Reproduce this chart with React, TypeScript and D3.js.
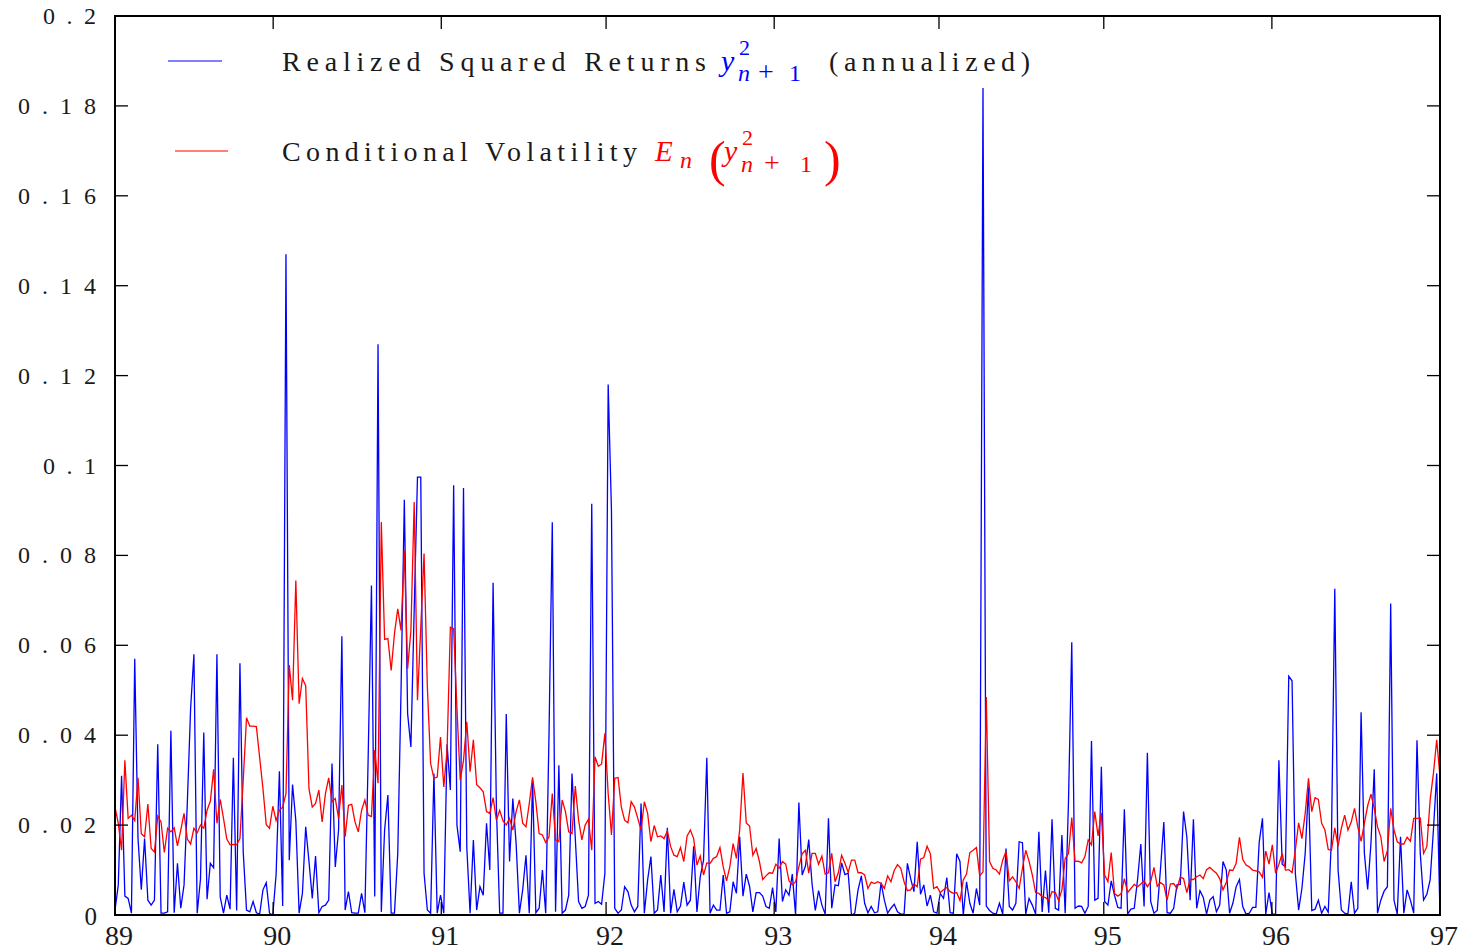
import React from 'react';
import * as d3 from 'd3';

// Realized squared returns y^2_{n+1} (annualized), weekly, in units of 0.01
const realizedSq: number[] = [
  0.11,0.67,3.1,0.42,0.37,0.04,5.7,1.7,0.56,1.7,
  0.33,0.22,0.33,3.8,0.04,0.04,0.07,4.1,0.05,1.15,
  0.15,0.67,2.5,4.6,5.8,0.04,0.8,4.06,0.35,1.15,
  1.05,5.8,0.4,0.04,0.44,0.13,3.5,0.1,5.6,1.4,
  0.11,0.07,0.3,0.05,0.02,0.56,0.72,0.04,0.0,0.9,
  3.2,0.2,
  14.7,
  1.22,2.9,2.1,0.04,0.48,1.96,1.19,0.37,1.31,0.05,
  0.19,0.22,0.33,3.37,1.07,1.89,6.2,0.11,0.52,0.05,
  0.04,0.04,0.48,0.05,3.5,7.33,0.41,12.7,0.07,1.89,
  2.67,0.04,0.04,1.37,5.0,9.24,4.48,3.74,6.8,9.74,
  9.74,0.93,0.11,0.04,3.15,0.04,0.44,0.04,3.8,2.78,
  9.56,2.0,1.41,9.5,1.5,0.04,1.67,0.11,0.63,0.44,
  2.04,1.0,7.39,2.4,0.04,0.04,4.47,1.19,2.59,1.59,
  0.04,0.56,1.33,0.04,3.0,0.05,0.15,1.0,0.04,4.0,
  8.74,0.07,3.33,0.04,0.11,0.44,3.15,1.7,0.3,0.15,
  0.19,0.44,9.15,0.26,0.3,0.24,0.93,11.8,9.0,
  0.15,0.04,0.11,0.63,0.52,0.22,0.07,0.19,2.48,0.04,
  0.78,1.3,0.04,0.11,0.89,0.07,1.94,0.04,0.57,0.07,
  0.2,0.73,0.22,0.33,1.53,0.07,0.85,1.22,3.5,0.04,
  0.22,0.11,0.11,0.89,0.04,0.07,0.74,0.48,1.74,0.42,
  0.91,0.64,0.07,0.5,0.5,0.42,0.19,0.15,0.61,0.07,1.7,
  0.3,0.56,0.44,0.91,0,2.5,0.89,1.09,1.68,0.7,
  0.1,0.54,0.22,0.02,2.15,0.15,0.67,0.65,1.16,0.9,
  0.93,0,0.04,0.56,0.87,0.26,0.05,0.19,0.05,0.07,
  0.72,0.33,0.04,0.15,0.24,0.07,0.02,0.02,1.15,0.81,
  0.52,1.63,0.46,0.67,0.2,0.44,0.07,0.04,0.48,0.37,
  0.83,0.05,0.04,1.36,1.19,0,0.74,0.26,0.04,0.59,
  0.22,18.4,0.2,0.1,0.04,0.02,0.26,0.02,1.48,0.19,
  0.11,0.26,1.63,1.61,0.02,0.37,0.22,0.02,1.85,0.07,
  0.99,0.05,2.13,0.15,0.11,1.78,0.04,2.5,6.07,0.15,
  0.2,0.19,0.04,0.19,3.87,0.33,0.37,3.3,0.3,0.22,
  0.76,0.44,0.17,0.15,2.35,0.02,0.13,0.15,0.78,1.58,
  0.19,3.61,0.3,0.04,0.1,1.04,2.07,0.05,0.04,0.15,
  0.67,0.68,2.3,1.74,0.33,2.13,0.15,0.54,0.39,0.02,
  0.33,0.41,0.07,0.22,1.19,1.0,0.04,0.26,0.63,0.79,
  0.19,0.02,0.04,0.17,0.17,1.61,2.15,0.02,0.5,0.02,
  0.02,3.44,1.13,1.07,5.31,5.21,0.93,0.11,0.59,1.37,
  2.85,0.1,0.13,0.33,0.04,0.19,0.06,1.74,7.26,1.0,
  0.11,0.04,0.02,0.74,0.04,0.15,4.51,1.37,0.57,1.59,
  3.24,0.04,0.33,0.53,0.63,6.93,0.33,0.02,1.74,0.04,
  0.56,0.33,0.04,3.89,1.37,0.33,0.46,0.78,1.89,3.15,0.0,
];

// Conditional volatility E_n(y^2_{n+1}), weekly, in units of 0.01
const conditionalVol: number[] = [
  2.4,2.04,1.44,3.44,2.15,2.22,2.1,3.05,1.81,1.74,
  2.47,1.48,1.4,2.2,2.07,1.39,1.93,1.85,1.94,1.54,
  1.89,2.26,1.69,1.58,1.93,1.83,2.0,1.93,2.33,2.53,
  3.24,2.04,2.57,2.15,1.69,1.56,1.57,1.56,1.7,3.0,
  4.39,4.2,4.2,4.19,3.5,2.81,2.01,1.93,2.42,2.1,
  2.33,2.4,
  2.7,
  5.56,4.78,7.44,4.7,5.26,5.1,2.81,2.4,2.48,2.78,
  2.07,2.7,3.05,2.52,2.59,2.15,2.89,1.74,2.44,2.46,
  2.07,1.85,2.33,2.56,2.22,2.19,3.67,2.93,8.74,6.13,
  6.15,5.44,6.26,6.81,6.33,8.11,5.48,6.33,9.19,4.78,
  6.4,8.04,5.07,3.37,3.04,3.07,3.96,2.85,3.67,6.4,
  6.37,4.6,3.0,3.44,4.3,3.19,3.9,2.9,2.83,2.74,
  2.3,2.26,2.61,2.11,2.33,2.1,2.0,2.15,1.89,2.3,
  2.56,2.04,1.96,2.48,3.06,2.52,1.81,1.78,1.61,1.74,
  2.7,1.67,1.63,2.56,2.3,1.85,1.81,2.87,2.11,1.67,
  2.0,2.13,1.44,3.52,3.31,3.36,4.04,2.7,1.78,
  3.04,3.06,2.4,2.11,2.05,2.52,2.4,2.15,1.89,2.52,
  2.26,1.63,1.99,1.74,1.76,1.7,1.87,1.52,1.33,1.3,
  1.5,1.19,1.76,1.89,1.7,1.11,1.31,0.89,1.16,1.15,
  1.26,1.3,1.5,1.07,0.76,1.07,1.59,1.26,1.9,3.16,
  2.05,1.98,1.33,1.48,1.19,0.79,0.87,0.94,0.93,1.13,1.04,
  1.19,1.13,0.76,0.67,0.74,1.07,1.36,1.44,0.93,1.37,
  1.37,1.13,1.31,0.91,0.94,1.37,0.74,0.94,1.33,1.15,
  0.95,1.22,1.22,0.94,0.94,0.89,0.59,0.73,0.7,0.74,
  0.7,0.59,0.87,0.74,0.99,1.12,1.04,0.74,0.54,0.56,
  0.69,0.63,1.24,1.28,1.53,1.36,0.59,0.63,0.5,0.56,
  0.61,0.52,0.48,0.5,0.32,0.78,0.91,1.39,1.44,1.5,
  0.87,0.96,4.85,1.19,1.04,1.0,0.91,1.22,1.42,0.76,
  0.85,0.74,0.59,1.04,1.44,1.2,0.89,0.5,0.48,0.41,
  0.39,0.32,0.52,0.5,0.32,0.56,1.26,1.37,2.17,1.19,
  1.2,1.16,1.3,1.67,1.56,2.3,1.76,2.27,0.89,0.74,
  1.39,0.48,0.42,0.47,0.81,0.5,0.59,0.68,0.63,0.69,
  0.76,0.63,0.74,1.06,0.64,0.72,0.67,0.33,0.69,0.7,
  0.59,0.84,0.81,0.5,0.79,0.79,0.85,0.89,0.81,1.01,
  1.06,0.99,0.93,0.81,0.56,0.72,1.0,0.99,1.15,1.73,
  1.24,1.11,1.07,1.0,0.98,0.96,0.84,1.42,1.13,1.56,
  0.93,1.13,1.37,1.0,1.01,0.94,1.44,2.05,1.7,2.26,
  3.04,2.3,2.61,2.57,2.04,1.89,1.46,1.44,1.94,1.53,
  1.93,2.22,1.89,2.07,2.37,1.96,1.64,2.04,2.43,2.69,
  2.37,1.96,1.74,1.19,1.43,2.37,1.9,1.63,1.58,1.58,
  1.73,1.64,2.15,2.15,2.16,1.37,1.52,2.56,3.15,3.9,3.07,
];

const yTickValues = [0, 0.02, 0.04, 0.06, 0.08, 0.1, 0.12, 0.14, 0.16, 0.18, 0.2];
const yTickLabels = ['0', '0.02', '0.04', '0.06', '0.08', '0.1', '0.12', '0.14', '0.16', '0.18', '0.2'];
const xTickLabels = ['89', '90', '91', '92', '93', '94', '95', '96', '97'];
// year boundaries as placed on the axis (first weekly observation of each year)
const xTickValues = [89, 89.955, 90.97, 91.965, 92.98, 93.975, 94.97, 95.985, 97];
const xDomain = [89, 97];

const W = 1463;
const H = 952;
const PL = 115, PR = 1440, PT = 16, PB = 915;
const FONT = '"Liberation Serif", "DejaVu Serif", serif';
const INK = '#1a1a1a';

export default function App() {
  const x = d3.scaleLinear().domain(xDomain).range([PL, PR]);
  const y = d3.scaleLinear().domain([0, 0.2]).range([PB, PT]);
  const toPts = (arr: number[]) =>
    arr.map((v, i) => [xDomain[0] + ((xDomain[1] - xDomain[0]) * i) / (arr.length - 1), v / 100] as [number, number]);
  const line = d3.line<[number, number]>().x(d => x(d[0])).y(d => y(d[1]));
  const bluePath = line(toPts(realizedSq)) || '';
  const redPath = line(toPts(conditionalVol)) || '';
  const tickLen = 13;

  return (
    <svg width={W} height={H} style={{ position: 'absolute', left: 0, top: 0, background: '#fff' }}
      fontFamily={FONT}>
      <defs>
        <clipPath id="plotclip">
          <rect x={PL} y={PT} width={PR - PL} height={PB - PT} />
        </clipPath>
      </defs>
      <rect x={0} y={0} width={W} height={H} fill="#fff" />
      <g clipPath="url(#plotclip)">
        <path d={bluePath} fill="none" stroke="#0000ff" strokeWidth={1.3} />
        <path d={redPath} fill="none" stroke="#ff0000" strokeWidth={1.3} />
      </g>
      {/* frame */}
      <rect x={PL} y={PT} width={PR - PL} height={PB - PT} fill="none" stroke="#000" strokeWidth={2} />
      {/* y ticks */}
      {yTickValues.map((v, i) => (
        <g key={'y' + i}>
          {i > 0 && i < yTickValues.length - 1 && (
            <>
              <line x1={PL} x2={PL + tickLen} y1={y(v)} y2={y(v)} stroke="#000" strokeWidth={1.3} />
              <line x1={PR} x2={PR - tickLen} y1={y(v)} y2={y(v)} stroke="#000" strokeWidth={1.3} />
            </>
          )}
          {yTickLabels[i] === '0' ? (
            <text x={97} y={y(v) + 10} textAnchor="end" fontSize={25} fill={INK}>0</text>
          ) : (
            <text x={96} y={y(v) + 8} textAnchor="end" fontSize={24} fill={INK}
              textLength={yTickLabels[i].length === 4 ? 78 : 53} lengthAdjust="spacing">{yTickLabels[i]}</text>
          )}
        </g>
      ))}
      {/* x ticks */}
      {xTickValues.map((v, i) => (
        <g key={'x' + i}>
          {i > 0 && i < xTickValues.length - 1 && (
            <>
              <line x1={x(v)} x2={x(v)} y1={PB} y2={PB - tickLen} stroke="#000" strokeWidth={1.3} />
              <line x1={x(v)} x2={x(v)} y1={PT} y2={PT + tickLen} stroke="#000" strokeWidth={1.3} />
            </>
          )}
          <text x={x(v) + 4} y={945} textAnchor="middle" fontSize={28} fill={INK}>{xTickLabels[i]}</text>
        </g>
      ))}
      {/* legend */}
      <line x1={168} x2={222} y1={61} y2={61} stroke="#0000ff" strokeWidth={1.2} />
      <text x={282} y={71} fontSize={28} fill={INK} textLength={424} lengthAdjust="spacing">Realized Squared Returns</text>
      <text x={721} y={71} fontSize={30} fill="#0000ff" fontStyle="italic">y</text>
      <text x={739} y={55} fontSize={22} fill="#0000ff">2</text>
      <text x={738} y={81} fontSize={24} fill="#0000ff" fontStyle="italic">n</text>
      <text x={758} y={81} fontSize={28} fill="#0000ff">+</text>
      <text x={789} y={81} fontSize={24} fill="#0000ff">1</text>
      <text x={829} y={71} fontSize={28} fill={INK} textLength={201} lengthAdjust="spacing">(annualized)</text>

      <line x1={175} x2={228} y1={151} y2={151} stroke="#ff0000" strokeWidth={1.2} />
      <text x={282} y={161} fontSize={28} fill={INK} textLength={355} lengthAdjust="spacing">Conditional Volatility</text>
      <text x={655} y={161} fontSize={29} fill="#ff0000" fontStyle="italic">E</text>
      <text x={680} y={168} fontSize={24} fill="#ff0000" fontStyle="italic">n</text>
      <text x={709} y={176} fontSize={50} fill="#ff0000">(</text>
      <text x={724} y={161} fontSize={30} fill="#ff0000" fontStyle="italic">y</text>
      <text x={742} y={145} fontSize={22} fill="#ff0000">2</text>
      <text x={741} y={172} fontSize={24} fill="#ff0000" fontStyle="italic">n</text>
      <text x={764} y={172} fontSize={28} fill="#ff0000">+</text>
      <text x={800} y={172} fontSize={24} fill="#ff0000">1</text>
      <text x={824} y={176} fontSize={50} fill="#ff0000">)</text>
    </svg>
  );
}
